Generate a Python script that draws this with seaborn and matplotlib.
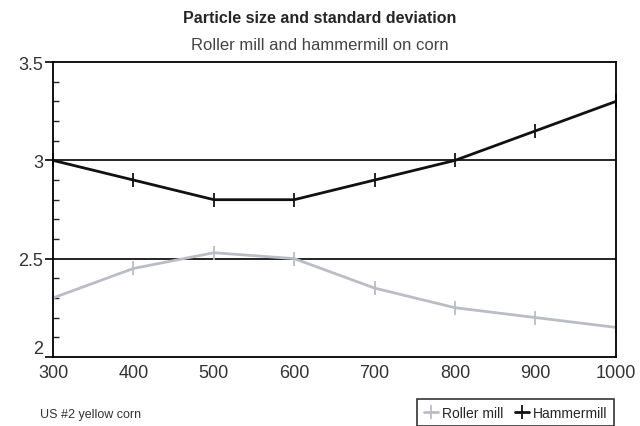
import matplotlib
matplotlib.use("Agg")
import matplotlib.pyplot as plt
import seaborn as sns
import pandas as pd
from matplotlib.ticker import MultipleLocator

# --- datos ---
particle_size = [300, 400, 500, 600, 700, 800, 900, 1000]
roller_mill = [2.30, 2.45, 2.53, 2.50, 2.35, 2.25, 2.20, 2.15]
hammermill = [3.00, 2.90, 2.80, 2.80, 2.90, 3.00, 3.15, 3.30]
x_ticks = [300, 400, 500, 600, 700, 800, 900, 1000]
y_ticks = [2, 2.5, 3, 3.5]

df = pd.DataFrame({
    "size": particle_size * 2,
    "sd": roller_mill + hammermill,
    "mill": ["Roller mill"] * len(particle_size) + ["Hammermill"] * len(particle_size),
})

sns.set_style("white")
plt.rcParams["font.family"] = ["Liberation Sans", "DejaVu Sans"]

fig = plt.figure(figsize=(6.4, 4.27), dpi=100)
ax = fig.add_axes([0.083, 0.162, 0.879, 0.690])

sns.lineplot(
    data=df, x="size", y="sd", hue="mill",
    palette={"Roller mill": "#b9bdc6", "Hammermill": "#111111"},
    marker="|", markersize=10, markeredgewidth=1.3,
    linewidth=2, ax=ax, legend=True,
)
# marcadores del mismo color que la linea
for ln in ax.lines:
    ln.set_markeredgecolor(ln.get_color())
    ln.set_clip_on(False)

ax.set_xlim(300, 1000)
ax.set_ylim(2, 3.5)
ax.set_xticks(x_ticks)
ax.set_yticks(y_ticks)
ax.set_yticklabels(["2", "2.5", "3", "3.5"])
ax.yaxis.set_minor_locator(MultipleLocator(0.1))
ax.tick_params(axis="y", which="major", direction="out", length=6, width=1.2,
               labelsize=13, pad=1, color="black", left=True)
ax.tick_params(axis="y", which="minor", direction="in", length=4, width=1, left=True)
ax.tick_params(axis="x", which="major", length=0, labelsize=13, pad=5)
for t in ax.get_xticklabels() + ax.get_yticklabels():
    t.set_color("#333333")
ax.get_yticklabels()[0].set_va("bottom")

for y in [2.5, 3.0]:
    ax.axhline(y, color="black", linewidth=1.2, zorder=0)

for s in ax.spines.values():
    s.set_visible(True)
    s.set_color("black")
    s.set_linewidth(1.3)

ax.set_xlabel("")
ax.set_ylabel("")

fig.text(0.5, 0.957, "Particle size and standard deviation", ha="center", va="center",
         fontsize=11.5, fontweight="bold")
fig.text(0.5, 0.893, "Roller mill and hammermill on corn", ha="center", va="center",
         fontsize=12, color="#444444")
fig.text(0.062, 0.027, "US #2 yellow corn", ha="left", va="center",
         fontsize=9, color="#333333")

handles, labels = ax.get_legend_handles_labels()
for h in handles:
    h.set_markeredgecolor(h.get_color())
leg = ax.legend(handles, labels, loc="lower right", bbox_to_anchor=(1.01, -0.26),
                ncol=2, frameon=True, fancybox=False, edgecolor="black",
                fontsize=10, handlelength=1.0, handletextpad=0.3, columnspacing=0.8,
                borderpad=0.5)
leg.get_frame().set_linewidth(1.2)

fig.savefig("out.png", dpi=100)
